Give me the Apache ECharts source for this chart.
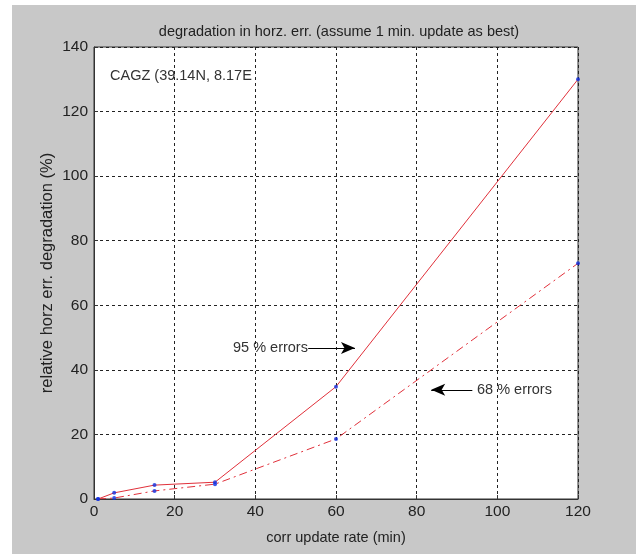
<!DOCTYPE html>
<html>
<head>
<meta charset="utf-8">
<script src="https://cdn.jsdelivr.net/npm/echarts@6/dist/echarts.min.js"></script>
<style>
  html, body { margin: 0; padding: 0; background: #fff; }
  #chart { position: absolute; left: 12px; top: 5px; width: 624px; height: 549px; background: #c8c8c8; }
</style>
</head>
<body>
<div id="chart"></div>
<script>
  // update rate (min) and relative degradation (%)
  var updateRate = [1, 5, 15, 30, 60, 120]
  var err95 = [0, 1.9, 4.3, 5.2, 34.8, 130]
  var err68 = [0, 0.3, 2.5, 4.6, 18.6, 73]

  var font = '"Liberation Sans", Arial, sans-serif'

  function pairs(xs, ys) {
    var out = []
    for (var i = 0; i < xs.length; i++) out.push([xs[i], ys[i]])
    return out
  }

  var chart = echarts.init(document.getElementById('chart'))
  var option = {
    animation: false,
    textStyle: { fontFamily: font },
    title: {
      text: 'degradation in horz. err. (assume 1 min. update as best)',
      left: 322, top: 14, textAlign: 'center',
      textStyle: { fontSize: 14.5, fontWeight: 'normal', color: '#222', fontFamily: font }
    },
    grid: {
      left: 82, right: 58, top: 42, bottom: 55,
      show: true, backgroundColor: '#fff', borderColor: '#333', borderWidth: 1
    },
    xAxis: {
      type: 'value', min: 0, max: 120, interval: 20,
      name: 'corr update rate (min)', nameLocation: 'middle', nameGap: 31,
      nameTextStyle: { fontSize: 14.5, color: '#222' },
      axisLine: { show: true, lineStyle: { color: '#333' } },
      axisTick: { show: true, inside: true, length: 4, lineStyle: { color: '#333' } },
      axisLabel: { fontSize: 15.5, color: '#222', margin: 5 },
      splitLine: { show: true, lineStyle: { color: '#222', type: [3, 3] } }
    },
    yAxis: {
      type: 'value', min: 0, max: 140, interval: 20,
      name: 'relative horz err. degradation (%)', nameLocation: 'middle', nameGap: 38,
      nameMoveOverlap: false,
      nameTextStyle: { fontSize: 16.5, color: '#222' },
      axisLine: { show: true, lineStyle: { color: '#333' } },
      axisTick: { show: true, inside: true, length: 4, lineStyle: { color: '#333' } },
      axisLabel: { fontSize: 15.5, color: '#222', margin: 6 },
      splitLine: { show: true, lineStyle: { color: '#222', type: [3, 3] } }
    },
    series: [{
      name: '95 % errors',
      type: 'line',
      data: pairs(updateRate, err95),
      showSymbol: false,
      lineStyle: { color: '#e0303a', width: 1 },
      markLine: {
        silent: true, symbol: ['none', 'arrow'], symbolSize: [9, 14],
        label: { show: false },
        lineStyle: { color: '#000', width: 1.2, type: 'solid' },
        data: [[{ coord: [53.1, 46.8] }, { coord: [64.7, 46.8] }]]
      }
    }, {
      name: '68 % errors',
      type: 'line',
      data: pairs(updateRate, err68),
      showSymbol: false,
      lineStyle: { color: '#e0303a', width: 1, type: [8, 4, 2, 4] },
      markLine: {
        silent: true, symbol: ['none', 'arrow'], symbolSize: [9, 14],
        label: { show: false },
        lineStyle: { color: '#000', width: 1.2, type: 'solid' },
        data: [[{ coord: [93.8, 33.8] }, { coord: [83.6, 33.8] }]]
      }
    }, {
      name: 'pts95', type: 'scatter', data: pairs(updateRate, err95),
      symbolSize: 4, itemStyle: { color: '#1030e0' }, z: 5
    }, {
      name: 'pts68', type: 'scatter', data: pairs(updateRate, err68),
      symbolSize: 4, itemStyle: { color: '#1030e0' }, z: 5
    }],
    graphic: [
      { type: 'text', left: 98, top: 63, style: { text: 'CAGZ (39.14N, 8.17E', fontSize: 14.5, fontFamily: font, fill: '#333' } },
      { type: 'text', left: 221, top: 335, style: { text: '95 % errors', fontSize: 14.5, fontFamily: font, fill: '#333' } },
      { type: 'text', left: 465, top: 377, style: { text: '68 % errors', fontSize: 14.5, fontFamily: font, fill: '#333' } }
    ]
  }
  chart.setOption(option)
</script>
</body>
</html>
